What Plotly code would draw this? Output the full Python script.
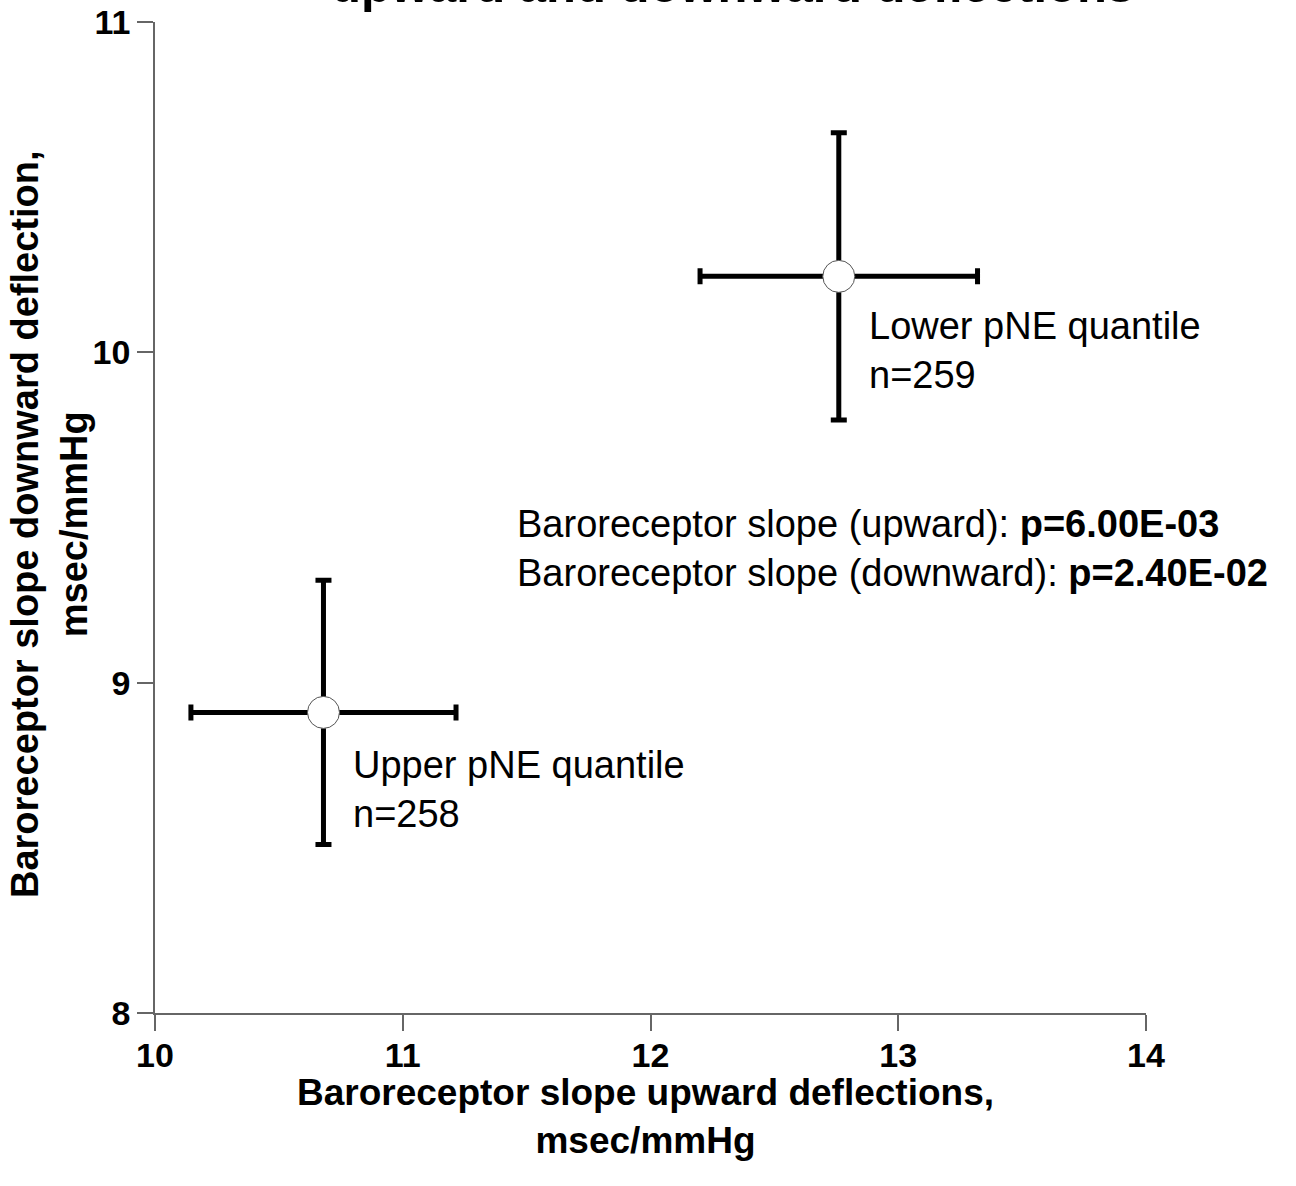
import plotly.graph_objects as go

groups = ["Lower pNE quantile", "Upper pNE quantile"]
n_counts = [259, 258]
x_mean = [12.76, 10.68]
y_mean = [10.23, 8.91]
x_err = [0.56, 0.535]
y_err = [0.435, 0.40]
x_ticks = [10, 11, 12, 13, 14]
y_ticks = [8, 9, 10, 11]
p_up = "p=6.00E-03"
p_down = "p=2.40E-02"
x_title = "Baroreceptor slope upward deflections,<br>msec/mmHg"
y_title = "Baroreceptor slope downward deflection,<br>msec/mmHg"
title_tail = "upward and downward deflections"

FONT = "Liberation Sans, Arial, sans-serif"

fig = go.Figure()
fig.add_trace(go.Scatter(
    x=x_mean, y=y_mean, mode="markers",
    marker=dict(size=32, color="white", line=dict(color="#555555", width=1)),
    error_x=dict(type="data", array=x_err, color="black", thickness=5, width=8),
    error_y=dict(type="data", array=y_err, color="black", thickness=5, width=8),
    showlegend=False, hoverinfo="skip"))

yshifts = [-27, -30]
for g, n, xm, ym, ys in zip(groups, n_counts, x_mean, y_mean, yshifts):
    fig.add_annotation(x=xm, y=ym, xref="x", yref="y",
                       text=f"{g}<br>n={n}", showarrow=False,
                       xanchor="left", yanchor="top", align="left",
                       xshift=28, yshift=ys,
                       font=dict(family=FONT, size=38, color="black"))

fig.add_annotation(x=0.363, y=0.469, xref="paper", yref="paper",
                   text=f"Baroreceptor slope (upward): <b>{p_up}</b><br>Baroreceptor slope (downward): <b>{p_down}</b>",
                   showarrow=False, xanchor="left", yanchor="middle", align="left",
                   font=dict(family=FONT, size=38, color="black"))

fig.add_annotation(x=0.583, y=1.0085, xref="paper", yref="paper",
                   text=f"<b>{title_tail}</b>", showarrow=False,
                   xanchor="center", yanchor="bottom",
                   font=dict(family=FONT, size=49, color="black"))

fig.add_annotation(x=0.495, y=-0.1044, xref="paper", yref="paper",
                   text=f"<b>{x_title}</b>", showarrow=False,
                   xanchor="center", yanchor="middle", align="center",
                   font=dict(family=FONT, size=37, color="black"))

fig.add_annotation(x=-0.107, y=0.4934, xref="paper", yref="paper",
                   text=f"<b>{y_title}</b>", showarrow=False, textangle=-90,
                   xanchor="center", yanchor="middle", align="center",
                   font=dict(family=FONT, size=38, color="black"))

fig.update_layout(
    width=1296, height=1186,
    margin=dict(l=155, r=150, t=22, b=173),
    paper_bgcolor="white", plot_bgcolor="white",
    xaxis=dict(range=[10, 14], tickvals=x_ticks, showgrid=False, zeroline=False,
               automargin=False,
               showline=True, linecolor="#666666", linewidth=1.5,
               ticks="outside", ticklen=16, tickcolor="#666666", tickwidth=1.5,
               ticklabelstandoff=-5,
               tickfont=dict(family=FONT, size=34, color="black", weight="bold")),
    yaxis=dict(range=[8, 11], tickvals=y_ticks, showgrid=False, zeroline=False,
               automargin=False,
               showline=True, linecolor="#666666", linewidth=1.5,
               ticks="outside", ticklen=16, tickcolor="#666666", tickwidth=1.5,
               tickfont=dict(family=FONT, size=34, color="black", weight="bold")),
)

fig.write_html("out.html")
